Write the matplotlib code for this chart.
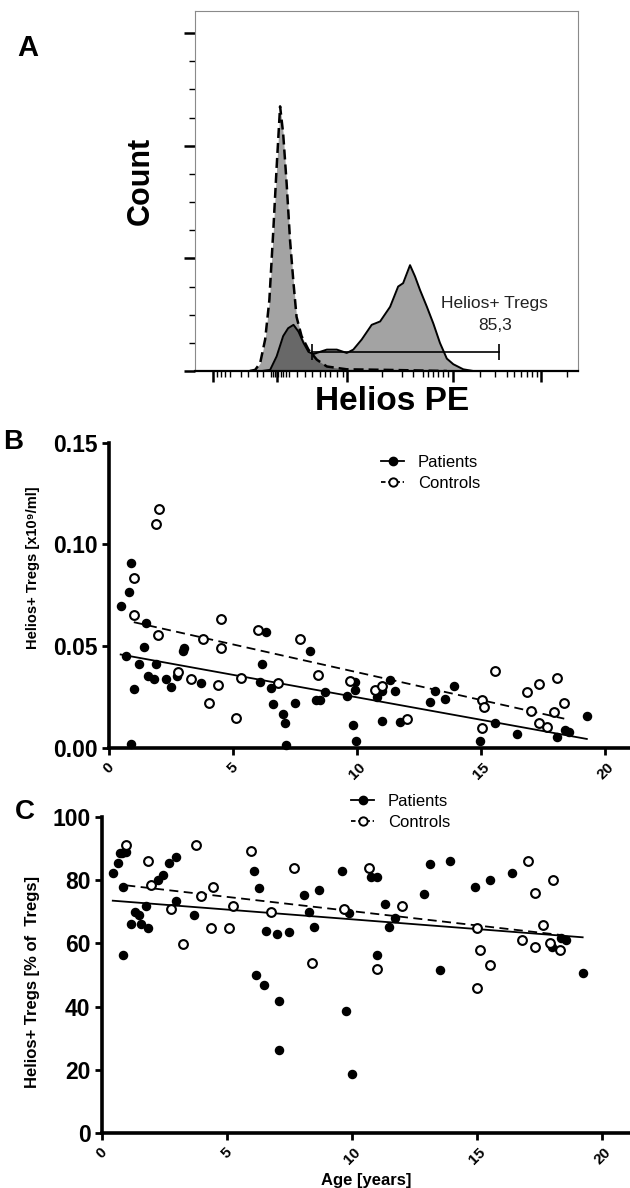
import numpy as np
import matplotlib
matplotlib.use("Agg")
import matplotlib.pyplot as plt
from matplotlib.lines import Line2D

plt.rcParams['font.family'] = ['Liberation Sans', 'DejaVu Sans']

# ---- panel A: flow histogram outlines (channel 0-1000, count units) ----
iso_x = [143, 157, 170, 183, 194, 204, 213, 222, 230, 239, 248, 257, 265, 278,
         296, 318, 344, 396, 500, 657]
iso_count = [0, 1, 7, 28, 63, 123, 181, 235, 211, 167, 116, 78, 48, 31,
             19, 10, 4, 1.5, 1, 0]
helios_x = [175, 196, 213, 230, 243, 257, 270, 283, 296, 309, 326, 344, 370,
            396, 413, 435, 461, 483, 509, 530, 543, 561, 574, 587, 605, 622,
            639, 657, 674, 700, 726]
helios_count = [0, 1, 13, 31, 38, 41, 35, 25, 17, 15, 17, 19, 19, 16, 19, 28,
                41, 44, 57, 75, 78, 94, 84, 72, 57, 42, 25, 11, 6, 1.5, 0]
gate_lo, gate_hi, gate_level = 306, 794, 17
gate_name = "Helios+ Tregs"
gate_pct = "85,3"

# ---- panel B: absolute counts [x10^9/ml] vs age ----
b_pat_age = [0.47, 0.70, 0.81, 0.87, 0.89, 1.00, 1.20, 1.40, 1.49, 1.57, 1.80,
             1.90, 2.30, 2.51, 2.74, 3.00, 3.02, 3.70, 6.09, 6.18, 6.32, 6.51,
             6.60, 7.02, 7.11, 7.12, 7.51, 8.12, 8.33, 8.52, 8.72, 9.61, 9.83,
             9.91, 9.91, 9.97, 10.81, 11.02, 11.02, 11.32, 11.53, 11.71, 12.94,
             13.13, 13.54, 13.92, 14.95, 15.55, 16.44, 18.05, 18.38, 18.54, 19.26]
b_pat_val = [0.0699, 0.0453, 0.0766, 0.0908, 0.0017, 0.0287, 0.0412, 0.0494,
             0.0613, 0.0353, 0.0338, 0.0412, 0.0340, 0.0300, 0.0354, 0.0477,
             0.0490, 0.0320, 0.0322, 0.0410, 0.0568, 0.0295, 0.0217, 0.0164,
             0.0123, 0.0015, 0.0218, 0.0474, 0.0235, 0.0236, 0.0272, 0.0256,
             0.0112, 0.0322, 0.0282, 0.0034, 0.0251, 0.0280, 0.0130, 0.0333,
             0.0280, 0.0125, 0.0225, 0.0280, 0.0238, 0.0303, 0.0034, 0.0123,
             0.0066, 0.0053, 0.0087, 0.0077, 0.0157]
b_con_age = [1.00, 1.00, 1.88, 1.99, 2.00, 2.80, 3.29, 3.79, 4.02, 4.41, 4.50,
             4.50, 5.11, 5.31, 6.01, 6.80, 7.70, 8.41, 9.70, 10.73, 11.02, 12.03,
             15.03, 15.03, 15.12, 15.54, 16.84, 17.02, 17.33, 17.33, 17.65,
             17.94, 18.04, 18.35]
b_con_val = [0.0833, 0.0653, 0.1102, 0.0554, 0.1174, 0.0374, 0.0336, 0.0536,
             0.0220, 0.0310, 0.0633, 0.0490, 0.0146, 0.0343, 0.0577, 0.0317,
             0.0533, 0.0359, 0.0328, 0.0284, 0.0303, 0.0140, 0.0235, 0.0095,
             0.0202, 0.0379, 0.0276, 0.0181, 0.0313, 0.0120, 0.0103, 0.0174,
             0.0344, 0.0220]

# ---- panel C: % of Tregs vs age ----
c_pat_age = [0.45, 0.67, 0.75, 0.83, 0.86, 0.87, 0.99, 1.16, 1.35, 1.48, 1.56,
             1.76, 1.87, 2.26, 2.47, 2.71, 2.97, 2.99, 3.68, 6.07, 6.18, 6.29,
             6.49, 6.58, 7.00, 7.09, 7.10, 7.49, 8.08, 8.30, 8.50, 8.68, 9.60,
             9.77, 9.89, 10.00, 10.76, 11.00, 11.00, 11.31, 11.49, 11.72, 12.89,
             13.11, 13.50, 13.91, 14.91, 15.51, 16.40, 18.00, 18.33, 18.53, 19.21]
c_pat_val = [82.3, 85.3, 88.5, 88.7, 77.9, 56.2, 88.8, 66.1, 69.9, 69.1, 66.0,
             71.7, 64.8, 80.1, 81.5, 85.5, 73.5, 87.3, 69.1, 82.9, 49.9, 77.4,
             46.7, 64.0, 63.0, 26.2, 41.9, 63.5, 75.3, 70.0, 65.2, 76.8, 82.9,
             38.5, 69.7, 18.6, 81.0, 81.0, 56.3, 72.6, 65.3, 67.9, 75.5, 85.2,
             51.6, 86.2, 77.9, 80.1, 82.4, 59.0, 61.6, 61.1, 50.7]
c_con_age = [0.99, 1.87, 1.96, 2.76, 3.27, 3.77, 3.97, 4.37, 4.46, 5.08, 5.26,
             5.97, 6.77, 7.70, 8.40, 9.67, 10.68, 11.00, 12.00, 15.00, 15.00,
             15.10, 15.51, 16.80, 17.01, 17.31, 17.31, 17.61, 17.90, 18.02, 18.32]
c_con_val = [91.1, 86.1, 78.4, 70.9, 59.9, 91.1, 75.0, 64.9, 77.8, 64.9, 71.9,
             89.2, 70.0, 84.0, 53.9, 71.0, 83.9, 51.9, 71.9, 65.0, 46.0, 57.8,
             53.2, 61.1, 86.1, 75.9, 59.0, 65.9, 60.0, 80.0, 57.8]

age_ticks = [0, 5, 10, 15, 20]
legend_labels = ["Patients", "Controls"]

W, H = 630, 1188
fig = plt.figure(figsize=(W / 100, H / 100), dpi=100)


def px_axes(left, top, right, bottom):
    return fig.add_axes([left / W, 1 - bottom / H, (right - left) / W, (bottom - top) / H])


def fig_text(x, y, s, **kw):
    # place text by pixel position (origin top-left)
    fig.text(x / W, 1 - y / H, s, ha='center', va='center', **kw)


# ================= A =================
axA = px_axes(195, 11, 578.3, 371)
axA.fill_between(iso_x, iso_count, color='k', alpha=0.36, lw=0)
axA.fill_between(helios_x, helios_count, color='k', alpha=0.36, lw=0)
axA.plot(iso_x, iso_count, color='k', lw=1.8, ls=(0, (4, 2)))
axA.plot(helios_x, helios_count, color='k', lw=1.4)
axA.plot([gate_lo, gate_hi], [gate_level, gate_level], color='k', lw=1.2)
axA.vlines([gate_lo, gate_hi], gate_level - 7, gate_level + 7, color='k', lw=1.2)
axA.text(780, 60, gate_name, ha='center', va='center', fontsize=12.5, color='#222222')
axA.text(784, 40.5, gate_pct, ha='center', va='center', fontsize=12.5, color='#222222')
axA.set_xlim(0, 1000)
axA.set_ylim(0, 319.7)
for s in ['top', 'right', 'left']:
    axA.spines[s].set_color('#8a8a8a')
    axA.spines[s].set_linewidth(0.8)
axA.spines['bottom'].set_linewidth(1.6)
axA.set_yticks([0, 100, 200, 300])
axA.set_yticks([25, 50, 75, 125, 150, 175, 225, 250, 275], minor=True)
axA.set_xticks([48, 213, 396, 672, 903])
axA.set_xticks([58, 69, 79, 91, 120, 139, 161, 178, 197, 204, 210, 217, 224,
                230, 237, 244, 265, 287, 304, 326, 339, 352, 370, 387, 487, 539,
                570, 594, 609, 622, 635, 648, 661, 744, 783, 813, 833, 851, 867,
                880, 892, 970], minor=True)
axA.tick_params(which='major', length=8, width=1.8, direction='out',
                labelleft=False, labelbottom=False)
axA.tick_params(which='minor', length=4.5, width=1.0, direction='out')
fig_text(391.7, 401, "Helios PE", fontsize=24, fontweight='bold')
fig_text(141, 181, "Count", fontsize=22, fontweight='bold', rotation=90)
fig_text(28, 47.5, "A", fontsize=21, fontweight='bold')


# ================= B / C =================
def scatter_panel(ax, pa, pv, ca, cv, ylim, yticks, yfmt, xmax):
    ax.scatter(pa, pv, s=34, color='k', zorder=3, clip_on=False)
    ax.scatter(ca, cv, s=40, facecolors='white', edgecolors='k', linewidths=1.5,
               zorder=3, clip_on=False)
    for a, v, ls in [(pa, pv, '-'), (ca, cv, (0, (5, 3)))]:
        a = np.asarray(a)
        k, b = np.polyfit(a, v, 1)
        xx = np.array([a.min(), a.max()])
        ax.plot(xx, k * xx + b, color='k', lw=1.3, ls=ls, zorder=2)
    ax.set_xlim(0, xmax)
    ax.set_ylim(*ylim)
    for s in ['top', 'right']:
        ax.spines[s].set_visible(False)
    for s in ['left', 'bottom']:
        ax.spines[s].set_linewidth(2.6)
    ax.set_yticks(yticks)
    ax.set_yticklabels([yfmt.format(t) for t in yticks], fontsize=16.5, fontweight='bold')
    ax.set_xticks(age_ticks)
    ax.set_xticklabels([str(t) for t in age_ticks], fontsize=11, fontweight='bold',
                       rotation=45)
    ax.tick_params(length=5, width=2, direction='out', pad=3)
    ax.tick_params(axis='x', pad=4)


axB = px_axes(109, 442.7, 630, 747.7)
scatter_panel(axB, b_pat_age, b_pat_val, b_con_age, b_con_val, (0, 0.15),
              [0, 0.05, 0.10, 0.15], "{:.2f}", 21.0)
fig_text(33, 568, "Helios+ Tregs [x10\u2079/ml]", rotation=90,
         fontsize=10.5, fontweight='bold')
fig_text(13.5, 441.7, "B", fontsize=20, fontweight='bold')

axC = px_axes(101.5, 817, 630, 1133)
scatter_panel(axC, c_pat_age, c_pat_val, c_con_age, c_con_val, (0, 100),
              [0, 20, 40, 60, 80, 100], "{:d}", 21.1)
fig_text(33, 982, "Helios+ Tregs [% of  Tregs]", rotation=90,
         fontsize=12, fontweight='bold')
axC.set_xlabel("Age [years]", fontsize=12, fontweight='bold', labelpad=4)
fig_text(25, 812, "C", fontsize=20, fontweight='bold')

handles = [Line2D([], [], color='k', lw=1.3, marker='o', ms=6),
           Line2D([], [], color='k', lw=1.3, ls=(0, (2.5, 1.5)), marker='o', ms=6,
                  mfc='white', mew=1.4)]
for ax, x0, y0 in [(axB, 381, 455), (axC, 351, 794)]:
    ax.legend(handles, legend_labels, loc='upper left',
              bbox_to_anchor=(x0 / W, 1 - y0 / H), bbox_transform=fig.transFigure,
              frameon=False, fontsize=12, handlelength=1.4, handletextpad=0.8,
              labelspacing=0.35, borderpad=0, borderaxespad=0)

fig.savefig("out.png", dpi=100)
